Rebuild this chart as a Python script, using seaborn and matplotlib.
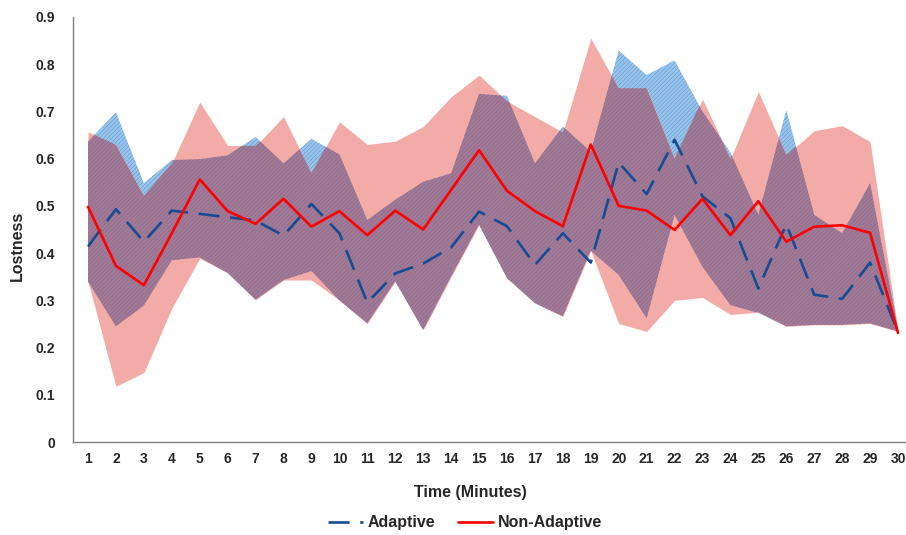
import matplotlib
matplotlib.use("Agg")
import matplotlib.pyplot as plt
import seaborn as sns
import numpy as np

# Lostness per minute
minutes = list(range(1, 31))

adaptive_mean = [0.414, 0.493, 0.424, 0.490, 0.483, 0.476, 0.469, 0.437, 0.504, 0.442,
                 0.295, 0.357, 0.378, 0.412, 0.488, 0.457, 0.375, 0.442, 0.380, 0.592,
                 0.525, 0.640, 0.520, 0.474, 0.325, 0.461, 0.312, 0.303, 0.380, 0.233]
adaptive_upper = [0.636, 0.698, 0.548, 0.597, 0.599, 0.607, 0.646, 0.590, 0.642, 0.609,
                  0.470, 0.513, 0.551, 0.569, 0.737, 0.733, 0.590, 0.668, 0.615, 0.829,
                  0.777, 0.808, 0.700, 0.613, 0.481, 0.703, 0.481, 0.442, 0.548, 0.240]
adaptive_lower = [0.340, 0.245, 0.289, 0.385, 0.391, 0.358, 0.301, 0.343, 0.362, 0.300,
                  0.251, 0.340, 0.237, 0.350, 0.460, 0.347, 0.294, 0.266, 0.405, 0.354,
                  0.262, 0.481, 0.371, 0.290, 0.273, 0.245, 0.248, 0.248, 0.251, 0.234]

nonadaptive_mean = [0.498, 0.373, 0.332, 0.442, 0.556, 0.489, 0.462, 0.515, 0.456, 0.489,
                    0.438, 0.490, 0.450, 0.534, 0.618, 0.532, 0.489, 0.457, 0.630, 0.500,
                    0.490, 0.449, 0.515, 0.438, 0.510, 0.424, 0.456, 0.459, 0.443, 0.231]
nonadaptive_upper = [0.657, 0.629, 0.521, 0.590, 0.720, 0.628, 0.627, 0.689, 0.569, 0.678,
                     0.630, 0.637, 0.668, 0.731, 0.777, 0.722, 0.689, 0.656, 0.855, 0.749,
                     0.749, 0.600, 0.726, 0.600, 0.742, 0.608, 0.659, 0.670, 0.636, 0.237]
nonadaptive_lower = [0.340, 0.118, 0.147, 0.283, 0.389, 0.358, 0.301, 0.343, 0.343, 0.300,
                     0.251, 0.340, 0.237, 0.350, 0.460, 0.347, 0.294, 0.266, 0.405, 0.251,
                     0.234, 0.300, 0.306, 0.270, 0.275, 0.245, 0.248, 0.248, 0.251, 0.234]

y_ticks = [0, 0.1, 0.2, 0.3, 0.4, 0.5, 0.6, 0.7, 0.8, 0.9]
y_tick_labels = ["0", "0.1", "0.2", "0.3", "0.4", "0.5", "0.6", "0.7", "0.8", "0.9"]

sns.set_style("white")
plt.rcParams['font.family'] = ['Liberation Sans', 'DejaVu Sans']
plt.rcParams['hatch.linewidth'] = 0.4

fig = plt.figure(figsize=(9.06, 5.35), dpi=100)
ax = fig.add_axes([73 / 906, 93 / 535, 833 / 906, 425 / 535])

# Bands: blue (adaptive), pink (non-adaptive), purple where they overlap
blue_band = ax.fill_between(minutes, adaptive_lower, adaptive_upper,
                            facecolor='#9AC4EA', edgecolor='#5A9AD6', hatch='////////',
                            linewidth=0, zorder=1)
ax.fill_between(minutes, nonadaptive_lower, nonadaptive_upper,
                facecolor='#F3ABA8', linewidth=0, zorder=2)
overlap = ax.fill_between(minutes, nonadaptive_lower, nonadaptive_upper,
                          facecolor='#A27A93', edgecolor='#86699A', hatch='////////',
                          linewidth=0, zorder=3)
overlap.set_clip_path(blue_band.get_paths()[0], ax.transData)

# Mean lines
sns.lineplot(x=minutes, y=adaptive_mean, ax=ax, color='#174C94', linewidth=1.9,
             linestyle=(0, (8, 4)), zorder=4)
sns.lineplot(x=minutes, y=nonadaptive_mean, ax=ax, color='#FF0000', linewidth=1.9,
             zorder=5)

ax.set_xlim(0.463, 30.286)
ax.set_ylim(0, 0.9)
ax.set_xticks(minutes)
ax.set_xticklabels([str(m) for m in minutes], fontweight='bold', fontsize=10)
ax.set_yticks(y_ticks)
ax.set_yticklabels(y_tick_labels, fontweight='bold', fontsize=10)
ax.tick_params(axis='both', length=0)
ax.tick_params(axis='x', pad=7)
ax.tick_params(axis='y', pad=13)

for side in ['top', 'right']:
    ax.spines[side].set_visible(False)
for side in ['left', 'bottom']:
    ax.spines[side].set_color('#7F7F7F')
    ax.spines[side].set_linewidth(1.0)

ax.set_xlabel('Time (Minutes)', fontweight='bold', fontsize=11.5)
ax.set_ylabel('Lostness', fontweight='bold', fontsize=11.5)
ax.xaxis.set_label_coords(0.477, -0.1)
ax.yaxis.set_label_coords(-0.058, 0.461)

handles = [ax.lines[0], ax.lines[1]]
ax.legend(handles, ['Adaptive', 'Non-Adaptive'], loc='center',
          bbox_to_anchor=(0.4706, -0.19), ncol=2, frameon=False,
          prop={'weight': 'bold', 'size': 11.5}, handlelength=2.2,
          handletextpad=0.3, columnspacing=1.4)

fig.savefig('out.png', dpi=100)
